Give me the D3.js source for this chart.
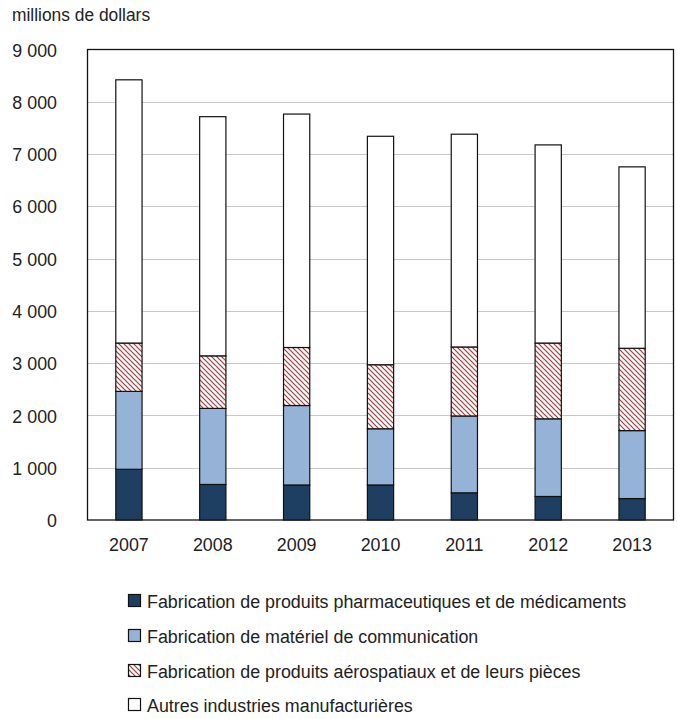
<!DOCTYPE html>
<html>
<head>
<meta charset="utf-8">
<script src="https://cdn.jsdelivr.net/npm/d3@7"></script>
<style>
  body { margin: 0; background: #fff; }
  svg text { font-family: "Liberation Sans", Arial, sans-serif; fill: #222; }
</style>
</head>
<body>
<svg width="677" height="719"></svg>
<script>
// data (millions de dollars)
var years = ["2007", "2008", "2009", "2010", "2011", "2012", "2013"];
var pharma = [970, 680, 670, 670, 520, 450, 410];
var comm = [1490, 1455, 1520, 1075, 1470, 1485, 1300];
var aero = [925, 1005, 1110, 1225, 1320, 1450, 1575];
var totals = [8420, 7715, 7765, 7340, 7380, 7175, 6755];
var yTicks = [0, 1000, 2000, 3000, 4000, 5000, 6000, 7000, 8000, 9000];
var seriesNames = [
  "Fabrication de produits pharmaceutiques et de médicaments",
  "Fabrication de matériel de communication",
  "Fabrication de produits aérospatiaux et de leurs pièces",
  "Autres industries manufacturières"
];

var svg = d3.select("svg");
var margin = {left: 87, right: 3, top: 49.5, bottom: 199};
var width = 677 - margin.left - margin.right;
var height = 719 - margin.top - margin.bottom;

// the original font is a bit condensed, squeeze the text a little
var squeeze = "scale(0.94,1)";

// hatch for aerospace
var defs = svg.append("defs");
var pat = defs.append("pattern")
    .attr("id", "hatch")
    .attr("patternUnits", "userSpaceOnUse")
    .attr("width", 5).attr("height", 5);
pat.append("rect").attr("width", 5).attr("height", 5).attr("fill", "#fff");
pat.append("path")
    .attr("d", "M0,0L5,5M-1,4L1,6M4,-1L6,1")
    .attr("stroke", "#a8383a")
    .attr("stroke-width", 1.2);

function fill(i) {
  switch (i) {
  case 0: return "#1f3f62";
  case 1: return "#95b3d7";
  case 2: return "url(#hatch)";
  default: return "#fff";
  }
}

// rows for the stack; "autres" = total minus the three named industries
var rows = years.map(function(y, i) {
  return {year: y, s0: pharma[i], s1: comm[i], s2: aero[i],
          s3: totals[i] - pharma[i] - comm[i] - aero[i]};
});
var stack = d3.stack().keys(["s0", "s1", "s2", "s3"])(rows);

var x = d3.scaleBand().domain(years)
    .range([margin.left, margin.left + width])
    .paddingInner(0.687).paddingOuter(0.3435);
var y = d3.scaleLinear().domain([0, 9000])
    .range([margin.top + height, margin.top]);

var fmt = function(d) { return d3.format(",")(d).replace(/,/g, " "); };

// gridlines
svg.append("g").selectAll("line")
  .data(yTicks.filter(function(d) { return d > 0 && d < 9000; }))
  .enter().append("line")
    .attr("x1", margin.left).attr("x2", margin.left + width)
    .attr("y1", function(d) { return Math.round(y(d)) + 0.5; })
    .attr("y2", function(d) { return Math.round(y(d)) + 0.5; })
    .attr("stroke", "#c8c8c8").attr("stroke-width", 1);

// plot frame
svg.append("rect")
    .attr("x", margin.left + 0.5).attr("y", margin.top)
    .attr("width", width - 1).attr("height", height)
    .attr("fill", "none").attr("stroke", "#111").attr("stroke-width", 1.3);

// bars
svg.append("g").selectAll("g")
  .data(stack)
  .enter().append("g")
    .attr("fill", function(d, i) { return fill(i); })
  .selectAll("rect")
  .data(function(d) { return d; })
  .enter().append("rect")
    .attr("x", function(d) { return x(d.data.year); })
    .attr("width", x.bandwidth())
    .attr("y", function(d) { return y(d[1]); })
    .attr("height", function(d) { return y(d[0]) - y(d[1]); })
    .attr("stroke", "#111").attr("stroke-width", 1.2);

// y axis
var yAxis = svg.append("g")
    .attr("transform", "translate(" + (margin.left - 30) + ",0)")
    .call(d3.axisLeft(y).tickValues(yTicks).tickFormat(fmt).tickSize(0).tickPadding(0));
yAxis.select(".domain").remove();
yAxis.selectAll("text").style("font-size", "19px").attr("dy", "0.35em")
    .attr("transform", squeeze);

// x axis
var xAxis = svg.append("g")
    .attr("transform", "translate(0," + (margin.top + height) + ")")
    .call(d3.axisBottom(x).tickSize(0).tickPadding(18));
xAxis.select(".domain").remove();
xAxis.selectAll("text").style("font-size", "19px").attr("transform", squeeze);

// unit label
svg.append("text")
    .attr("transform", "translate(12,21) " + squeeze)
    .style("font-size", "18.5px")
    .text("millions de dollars");

// legend
var legend = svg.append("g").selectAll("g")
  .data(seriesNames)
  .enter().append("g")
    .attr("transform", function(d, i) {
      return "translate(128," + [594, 629, 664, 698][i] + ")";
    });
legend.append("rect")
    .attr("x", 0.5).attr("y", 0.5)
    .attr("width", 12).attr("height", 12)
    .attr("fill", function(d, i) { return fill(i); })
    .attr("stroke", "#111").attr("stroke-width", 1.2);
legend.append("text")
    .attr("transform", "translate(19,13.5) " + squeeze)
    .style("font-size", "19px")
    .text(function(d) { return d; });
</script>
</body>
</html>
